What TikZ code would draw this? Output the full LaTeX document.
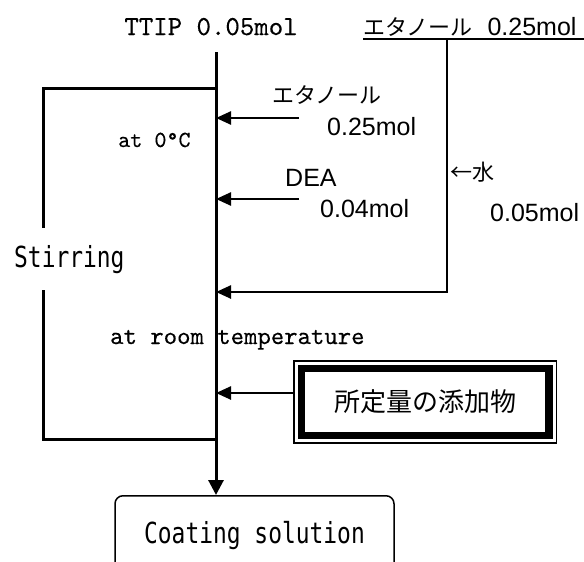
\documentclass[tikz,border=0pt]{standalone}
\usepackage{fontspec}
\newfontfamily\jpfont{Noto Sans CJK JP}
\newfontfamily\arialfont{Liberation Sans}
\newfontfamily\gothmono{DejaVu Sans Mono}
\newfontfamily\minchofont{lmmono10-regular.otf}[FakeBold=0.3]
\usetikzlibrary{arrows.meta}
\tikzset{
  mainline/.style={line width=3pt, line join=miter},
  boxline/.style={line width=3pt, line join=miter},
  arr/.style={line width=2.5pt, -{Triangle[length=15pt,width=13pt]}},
  lbl/.style={inner sep=0pt, anchor=base west},
  mincho/.style={lbl, font=\minchofont\fontsize{25.5}{25.5}\selectfont},
  sanslbl/.style={lbl, font=\arialfont\fontsize{25}{25}\selectfont},
  jplbl/.style={lbl, font=\jpfont\fontsize{22}{22}\selectfont},
  coatbox/.style={draw, line width=1.5pt, rounded corners=8pt, minimum width=279pt, minimum height=80pt, anchor=north, inner sep=0pt},
  addbox/.style={draw, line width=7.5pt, outer sep=0pt, minimum width=247.5pt, minimum height=67pt, inner sep=0pt, font=\jpfont\fontsize{26}{26}\selectfont}
}
\newcommand{\gothtext}[1]{\scalebox{0.79}[1]{\gothmono\fontsize{29}{29}\selectfont #1}}
\begin{document}
\begin{tikzpicture}[x=1pt,y=-1pt]
\useasboundingbox (0,0) rectangle (584,562);
% labels
\node[mincho, anchor=base, font=\minchofont\fontsize{27.5}{27.5}\selectfont] (ttip) at (211,35) {TTIP 0.05mol};
\node[lbl] (eth1) at (363,35) {\jpfont\fontsize{22}{22}\selectfont エタノール\hspace{15pt}\arialfont\fontsize{25}{25}\selectfont 0.25mol};
\node[jplbl] (eth2) at (272,103) {エタノール};
\node[sanslbl] (eth2m) at (327,135) {0.25mol};
\node[sanslbl] (dea) at (285,186) {DEA};
\node[sanslbl] (deam) at (320,217) {0.04mol};
\node[jplbl] (water) at (450,180) {←水};
\node[sanslbl] (waterm) at (490,221) {0.05mol};
\node[mincho, font=\minchofont\fontsize{23}{23}\selectfont] (t0) at (118,147) {at 0°C};
\node[mincho] (troom) at (110,344) {at room temperature};
\node[lbl] (stir) at (14,267) {\gothtext{Stirring}};
% main line
\coordinate (top) at (216,52);
\node[coatbox] (coat) at (254.5,495) {\gothtext{Coating solution}};
\draw[mainline, -{Triangle[length=15pt,width=15pt]}] (top) -- (top |- coat.north);
% stirring frame
\coordinate (sA) at (216,88);
\coordinate (sB) at (43,228);
\coordinate (sC) at (43,290);
\coordinate (sD) at (216,439);
\draw[boxline] (sA) -| (sB);
\draw[boxline] (sC) |- (sD);
% underline and right feed line
\coordinate (u1) at (363,38.5);
\coordinate (u2) at (584,38.5);
\draw[line width=2pt] (u1) -- (u2);
\coordinate (r0) at (447,38.5);
\coordinate (r1) at (447,292);
\draw[arr, line join=miter] (r0) -- (r1) -- (r1 -| top);
% arrows
\coordinate (a1) at (299,118);
\coordinate (a2) at (299,199);
\draw[arr] (a1) -- (a1 -| top);
\draw[arr] (a2) -- (a2 -| top);
% additive box
\node[addbox] (add) at (425.25,402) {所定量の添加物};
\draw[line width=1.5pt] ([shift={(-7.5,-7.5)}]add.north west) rectangle ([shift={(7.5,7.5)}]add.south east);
\coordinate (a4) at (294,393);
\draw[arr] (a4) -- (a4 -| top);
\end{tikzpicture}
\end{document}
